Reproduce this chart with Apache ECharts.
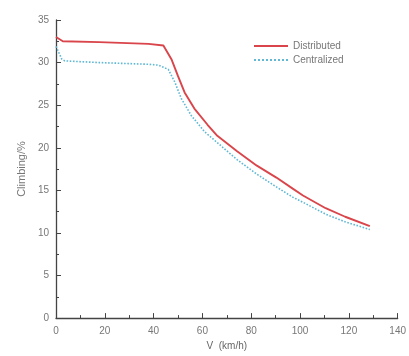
<!DOCTYPE html>
<html>
<head>
<meta charset="utf-8">
<script src="https://cdn.jsdelivr.net/npm/echarts@6/dist/echarts.min.js"></script>
<style>html,body{margin:0;padding:0;background:#fff}#c{width:409px;height:356px}</style>
</head>
<body>
<div id="c"></div>
<script>
var seriesNames = ['Distributed', 'Centralized'];
var distributedV = [0, 0.8, 2.8, 17.7, 37.9, 44.0, 47.3, 50.0, 52.7, 56.7, 62.1, 66.1, 74.2, 82.3, 90.3, 97.0, 101.2, 110.5, 118.5, 128.6];
var distributedC = [33.0, 32.8, 32.5, 32.4, 32.2, 32.0, 30.4, 28.4, 26.5, 24.6, 22.7, 21.4, 19.6, 17.9, 16.5, 15.2, 14.4, 12.9, 11.9, 10.8];
var centralizedV = [0, 2.4, 3.6, 17.7, 37.9, 42.0, 46.0, 48.7, 51.3, 55.4, 60.8, 66.1, 74.2, 82.3, 90.3, 97.0, 101.2, 110.5, 118.5, 128.6];
var centralizedC = [31.9, 30.4, 30.2, 30.0, 29.8, 29.7, 29.2, 27.7, 25.8, 23.8, 21.9, 20.6, 18.6, 16.9, 15.4, 14.2, 13.6, 12.2, 11.3, 10.4];
var xTicks = [0, 20, 40, 60, 80, 100, 120, 140];
var yTicks = [0, 5, 10, 15, 20, 25, 30, 35];

function pairs(xs, ys) { return xs.map(function (x, i) { return [x, ys[i]]; }); }

var font = 'Liberation Sans';
var chart = echarts.init(document.getElementById('c'), null, { renderer: 'canvas' });
chart.setOption({
  animation: false,
  backgroundColor: '#fff',
  textStyle: { fontFamily: font },
  grid: { left: 56, right: 6, top: 20, bottom: 33 },
  legend: {
    orient: 'vertical', left: 248, top: 36, itemWidth: 34, itemHeight: 8, itemGap: 4,
    itemStyle: { opacity: 0 },
    textStyle: { fontFamily: font, fontSize: 10, color: '#777' },
    data: seriesNames
  },
  xAxis: {
    type: 'value', min: xTicks[0], max: xTicks[xTicks.length - 1], interval: 20,
    name: 'V  (km/h)', nameLocation: 'middle', nameGap: 21,
    nameTextStyle: { fontFamily: font, fontSize: 10, color: '#666' },
    axisLine: { lineStyle: { color: '#444', width: 1.3 } },
    axisTick: { inside: true, length: 5, lineStyle: { color: '#444' } },
    minorTick: { show: true, splitNumber: 2, length: 3, lineStyle: { color: '#444' } },
    splitLine: { show: false },
    axisLabel: { fontFamily: font, fontSize: 10, color: '#777', margin: 8 }
  },
  yAxis: {
    type: 'value', min: yTicks[0], max: yTicks[yTicks.length - 1], interval: 5,
    name: 'Climbing/%', nameLocation: 'middle', nameGap: 29, nameRotate: 90,
    nameTextStyle: { fontFamily: font, fontSize: 11, color: '#777' },
    axisLine: { show: true, lineStyle: { color: '#444', width: 1.3 } },
    axisTick: { show: true, inside: true, length: 5, lineStyle: { color: '#444' } },
    minorTick: { show: true, splitNumber: 2, length: 3, lineStyle: { color: '#444' } },
    splitLine: { show: false },
    axisLabel: { fontFamily: font, fontSize: 10, color: '#777', margin: 7 }
  },
  series: [
    {
      name: seriesNames[0], type: 'line', showSymbol: false, symbol: 'none',
      data: pairs(distributedV, distributedC),
      lineStyle: { color: '#d9454a', width: 1.9 }, itemStyle: { color: '#d9454a' }
    },
    {
      name: seriesNames[1], type: 'line', showSymbol: false, symbol: 'none',
      data: pairs(centralizedV, centralizedC),
      lineStyle: { color: '#5fb8d4', width: 1.6, type: 'dotted' }, itemStyle: { color: '#5fb8d4' }
    }
  ]
});
</script>
</body>
</html>
